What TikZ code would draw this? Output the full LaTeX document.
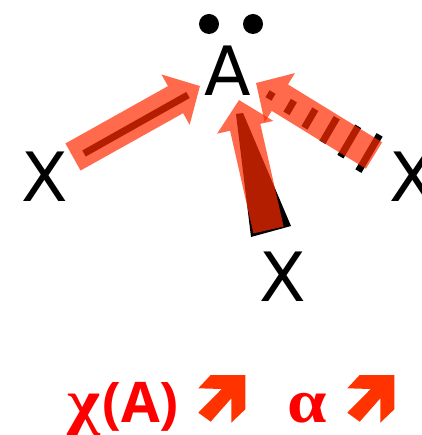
\documentclass[tikz,border=0pt]{standalone}
\usepackage{fontspec}
\setmainfont{DejaVu Sans}
\newfontfamily\greekfont{Liberation Serif}
\newfontfamily\legendfont{Open Sans}
\usetikzlibrary{arrows.meta,calc}
\definecolor{haloRed}{HTML}{FF2A00}
\definecolor{trendRed}{HTML}{FF3300}
\begin{document}
\begin{tikzpicture}[x=1pt,y=-1pt]
\tikzset{
  atomnode/.style={inner sep=0pt,anchor=base,font=\fontsize{68}{68}\selectfont,text=black},
  lonepair/.style={circle,fill=black,minimum size=20pt,inner sep=0pt},
  trendtext/.style={inner sep=0pt,anchor=base,text=red,font=\fontsize{56}{56}\selectfont\legendfont\bfseries},
  greektext/.style={trendtext,transform shape,xscale=1.14,font=\fontsize{62}{62}\selectfont\greekfont\bfseries},
  bondline/.style={draw=black,line width=7pt},
  bondstripe/.style={draw=black,line width=7pt},
  dipole/.style={draw=haloRed,line width=31pt,-{Triangle[length=28pt,width=56pt]}},
  dipolegroup/.style={transparency group,opacity=0.7}
}
\useasboundingbox (0,0) rectangle (421,435);
\node[atomnode] (n_A) at (228,96) {A};
\node[lonepair] (n_p0) at (209,24) {};
\node[lonepair] (n_p1) at (253,24) {};
\node[atomnode] (n_xl) at (45,202) {X};
\node[atomnode] (n_xr) at (413,202) {X};
\node[atomnode] (n_xb) at (283,301) {X};
% bond ends
\coordinate (l_a) at (84,153.5);
\coordinate (l_b) at (188,95);
\coordinate (r_a) at (270.5,95.5);
\coordinate (r_step) at (19.7,11.5);
\coordinate (b_a0) at (236,114);
\coordinate (b_a1) at (243,113);
\coordinate (b_b0) at (251,237);
\coordinate (b_b1) at (291,226);
\draw[bondline] (l_a) -- (l_b);
\fill[black] (b_a0) -- (b_a1) -- (b_b1) -- (b_b0) -- cycle;
\foreach \i in {0,...,5} {
  \pgfmathsetmacro{\halflen}{(8+6.8*\i)/2}
  \draw[bondstripe] ($(r_a)+\i*(r_step)+\halflen*(0.505,-0.863)$) -- ($(r_a)+\i*(r_step)-\halflen*(0.505,-0.863)$);
}
% dipole arrows
\coordinate (dl_a) at (73,157);
\coordinate (dl_b) at (200,86);
\coordinate (dr_a) at (374,155.5);
\coordinate (dr_b) at (256,83);
\coordinate (db_a) at (268.5,230);
\coordinate (db_b) at (239,100);
\begin{scope}[dipolegroup]
\draw[dipole] (dl_a) -- (dl_b);
\end{scope}
\begin{scope}[dipolegroup]
\draw[dipole] (dr_a) -- (dr_b);
\end{scope}
\begin{scope}[dipolegroup]
\draw[dipole] (db_a) -- (db_b);
\end{scope}
% legend
\node[greektext] (n_chi) at (83.5,422) {χ};
\node[trendtext] (n_en) at (140.5,422) {(A)};
\node[greektext] (n_alpha) at (307.5,422) {α};
\foreach \dx in {0,149} {
  \fill[trendRed,shift={(\dx,0)}] (210.7,375) -- (245.3,375) -- (245.3,409.3) -- (231.3,422.7) -- (231.3,398.3)
    -- (210.7,421.7) -- (198.3,412.7) -- (221.7,389) -- (198.3,388.3) -- cycle;
}
\end{tikzpicture}
\end{document}
